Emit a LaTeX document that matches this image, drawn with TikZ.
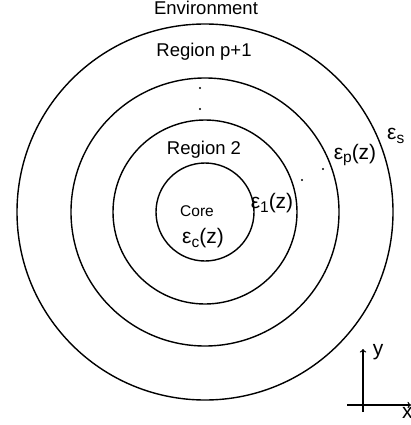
\documentclass[tikz,border=0pt]{standalone}
\usepackage{fontspec}
\setmainfont{Liberation Sans}
\newcommand{\sbs}[1]{\raisebox{-0.35ex}{\fontsize{15.5}{18}\selectfont #1}}
\begin{document}
\begin{tikzpicture}[x=1pt,y=-1pt,
  ring/.style={draw=black,line width=1.4pt},
  lbl/.style={inner sep=0pt,font=\fontsize{18.5}{21}\selectfont},
  eps/.style={inner sep=0pt,font=\fontsize{21}{24}\selectfont},
  dotmark/.style={fill=black,circle,inner sep=0pt,minimum size=2.2pt}]
\useasboundingbox (0,0) rectangle (411,425);
\coordinate (c) at (205,212);
\draw[ring] (c) circle[radius=49];
\draw[ring] (c) circle[radius=92];
\draw[ring] (c) circle[radius=134];
\draw[ring] (c) circle[radius=188];
\node[lbl] (env) at (206,8) {Environment};
\node[lbl] (rp) at (204,52) {Region p+1};
\node[lbl] (r2) at (204,150) {Region 2};
\node[inner sep=0pt,font=\fontsize{15.5}{18}\selectfont] (core) at (197,211) {Core};
\node[eps] (ec) at (203,238) {ε\sbs{c}(z)};
\node[eps] (e1) at (272,203) {ε\sbs{1}(z)};
\node[eps] (ep) at (355,155) {ε\sbs{p}(z)};
\node[eps,anchor=west] (es) at (387,136) {ε\sbs{s}};
\node[dotmark] (d1) at (200,88) {};
\node[dotmark] (d2) at (200,109) {};
\node[dotmark] (d3) at (302,180) {};
\node[dotmark] (d4) at (323,169) {};
\coordinate (ob) at (363,412);
\coordinate (yt) at (363,349);
\coordinate (ol) at (347,405);
\coordinate (xr) at (411,405);
\draw[line width=1.3pt,->] (ob) -- (yt);
\draw[line width=1.3pt,->] (ol) -- (xr);
\node[lbl,font=\fontsize{21}{24}\selectfont] (ylab) at (378,352) {y};
\node[lbl,font=\fontsize{21}{24}\selectfont,anchor=west] (xlab) at (402,413) {x};
\end{tikzpicture}
\end{document}
